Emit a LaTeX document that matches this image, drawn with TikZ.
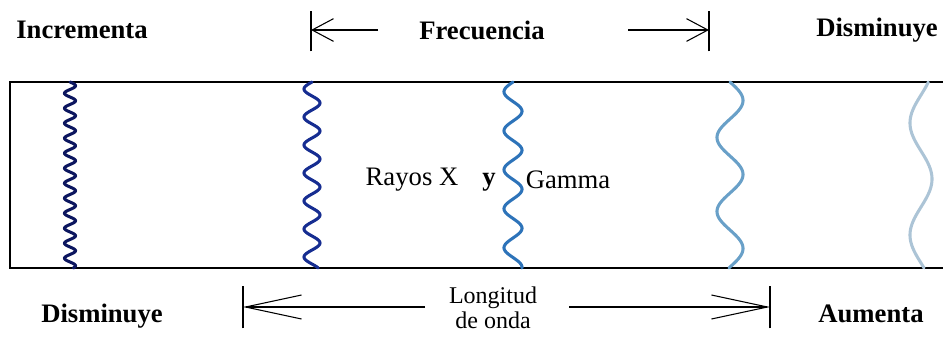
\documentclass[tikz,border=0pt]{standalone}
\usepackage{fontspec}
\setmainfont{Liberation Serif}
\usepackage{xcolor}
\usepackage{tikz}
\usetikzlibrary{arrows.meta, positioning}
\definecolor{w1color}{RGB}{12,22,95}
\definecolor{w2color}{RGB}{22,45,145}
\definecolor{w3color}{RGB}{45,115,185}
\definecolor{w4color}{RGB}{105,160,200}
\definecolor{w5color}{RGB}{172,196,214}

\begin{document}
\begin{tikzpicture}[x=0.75pt, y=-0.75pt,
  lbl/.style={font=\rmfamily\fontsize{20}{24}\selectfont\bfseries, inner sep=0pt},
  txt/.style={font=\rmfamily\fontsize{20}{24}\selectfont, inner sep=0pt},
  small/.style={font=\rmfamily\fontsize{18}{21}\selectfont, inner sep=0pt},
  wave/.style={line width=2.3pt, line cap=round},
  arrow/.style={-{Straight Barb[length=16pt, width=17pt, line width=0.8pt]}, line width=1.1pt},
  longarrow/.style={-{Straight Barb[length=42pt, width=18pt, line width=0.8pt]}, line width=1.1pt},
  tick/.style={line width=1.1pt}
]
\useasboundingbox (0,0) rectangle (943,340);

% band
\draw[line width=1.1pt] (945,82) -- (10,82) -- (10,268) -- (945,268);

% waves, shortest to longest
\draw[wave, w1color] plot[domain=82:268, samples=300] ({70+5.5*sin((\x-82)*24)}, \x);
\draw[wave, w2color] plot[domain=82:268, samples=300] ({312-8*sin((\x-82)*12.857)}, \x);
\draw[wave, w3color] plot[domain=82:268, samples=300] ({513-9*sin((\x-82)*9.231)}, \x);
\draw[wave, w4color] plot[domain=82:268, samples=300] ({730+13*sin((\x-82)*4.865)}, \x);
\draw[wave, w5color] plot[domain=82:268, samples=300] ({921-11*sin((\x-95)*3.214)}, \x);

% labels
\node[lbl] (inc) at (82,30) {Incrementa};
\node[lbl] (frec) at (482,30) {Frecuencia};
\node[lbl] (dismT) at (877,30) {Disminuye};
\node[txt] (rayos) at (412,180) {Rayos X};
\node[lbl] (yy) at (489,182) {y};
\node[txt] (gamma) at (568,180) {Gamma};
\node[lbl] (dismB) at (102,316) {Disminuye};
\node[lbl] (aum) at (871,314) {Aumenta};
\node[small] (long) at (493,298) {Longitud};
\node[small, below=2pt of long] (onda) {de onda};

% frequency arrow
\coordinate (fL) at (311,30);
\coordinate (fLe) at (378,30);
\coordinate (fR) at (709,30);
\coordinate (fRs) at (628,30);
\draw[tick] ([yshift=-16]fL) -- ([yshift=14]fL);
\draw[tick] ([yshift=-16]fR) -- ([yshift=14]fR);
\draw[arrow] (fLe) -- (fL);
\draw[arrow] (fRs) -- (fR);

% wavelength arrow
\coordinate (lL) at (243,307);
\coordinate (lLe) at (425,307);
\coordinate (lR) at (770,307);
\coordinate (lRs) at (569,307);
\draw[tick] ([yshift=-16]lL) -- ([yshift=16]lL);
\draw[tick] ([yshift=-16]lR) -- ([yshift=16]lR);
\draw[longarrow] (lLe) -- (lL);
\draw[longarrow] (lRs) -- (lR);

\end{tikzpicture}
\end{document}
